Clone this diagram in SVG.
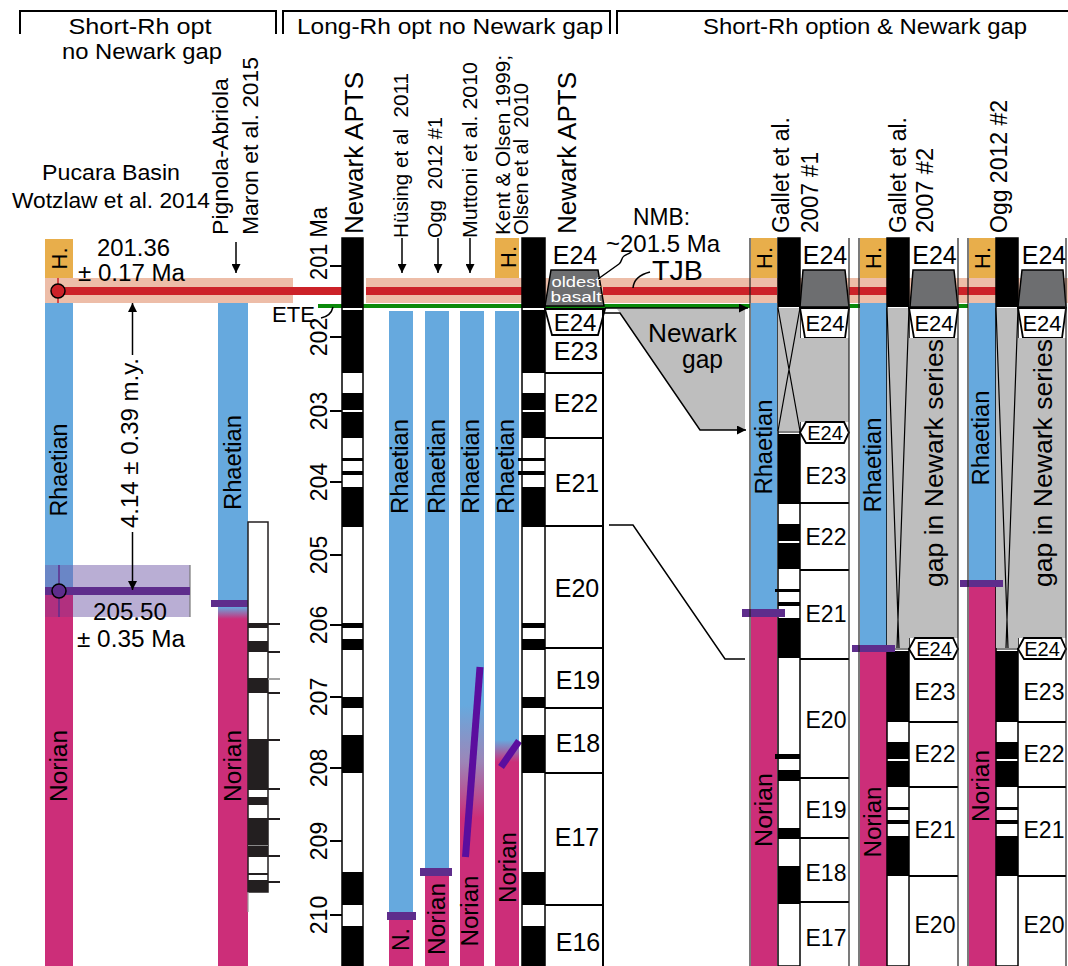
<svg xmlns="http://www.w3.org/2000/svg" width="1068" height="966" viewBox="0 0 1068 966">
<defs>
<style>
.t{font-family:"Liberation Sans",Arial,Helvetica,sans-serif;fill:#000}
.c{text-anchor:middle;dominant-baseline:central}
.m{text-anchor:middle}
.blue{fill:#66A9DE}
.mag{fill:#CC2E79}
.org{fill:#E8AE4B}
.pink{fill:#EDBDA8}
.red{fill:#CC2229}
.grn{fill:#0A8A0A}
.pur{fill:#5E2D8C}
.gry{fill:#BEBEBE}
.dg{fill:#6D6E70;stroke:#000;stroke-width:1.5}
.k{fill:#000}
.kk{fill:#231F20}
.ln{fill:none;stroke:#000;stroke-width:1.5}
.bx{fill:none;stroke:#000;stroke-width:2}
.wb{fill:#fff;stroke:#000;stroke-width:1.8}
.col{fill:#fff;stroke:#000;stroke-width:1.5}
.thin{fill:none;stroke:#222;stroke-width:1.2}
</style>
<marker id="ah" viewBox="0 0 10 10" refX="10" refY="5" markerWidth="13" markerHeight="9" orient="auto" markerUnits="userSpaceOnUse"><path d="M0,0 L10,5 L0,10 Z" fill="#000"/></marker>
<linearGradient id="gPig" x1="0" y1="0" x2="0" y2="1"><stop offset="0" stop-color="#66A9DE"/><stop offset="1" stop-color="#CC2E79"/></linearGradient>
<linearGradient id="gMut" x1="0" y1="0" x2="0" y2="1"><stop offset="0" stop-color="#66A9DE"/><stop offset="0.5" stop-color="#9C86B8"/><stop offset="1" stop-color="#CC2E79"/></linearGradient>
<linearGradient id="gKen" x1="0" y1="0" x2="0" y2="1"><stop offset="0" stop-color="#66A9DE"/><stop offset="1" stop-color="#CC2E79"/></linearGradient>
</defs>
<rect width="1068" height="966" fill="#fff"/>

<g id="header">
<path class="bx" d="M20,34 V11 H276 V34 M283,34 V11 H610 V34 M617,34 V11 H1068"/>
<text class="t m" x="140" y="34" font-size="22" textLength="143" lengthAdjust="spacingAndGlyphs">Short-Rh opt</text>
<text class="t m" x="142" y="59" font-size="22" textLength="160" lengthAdjust="spacingAndGlyphs">no Newark gap</text>
<text class="t m" x="450" y="34" font-size="22" textLength="306" lengthAdjust="spacingAndGlyphs">Long-Rh opt no Newark gap</text>
<text class="t m" x="865" y="34" font-size="22" textLength="324" lengthAdjust="spacingAndGlyphs">Short-Rh option &amp; Newark gap</text>
</g>

<g id="bands">
<rect class="pink" x="45" y="278" width="248" height="25"/>
<rect class="pink" x="366" y="278" width="702" height="25"/>
<rect class="grn" x="318" y="304" width="432" height="4"/>
<rect class="grn" x="849" y="304" width="11" height="4"/>
<rect class="grn" x="958" y="304" width="10" height="4"/>
</g>

<g id="pucara">
<rect class="blue" x="45" y="303" width="28" height="262"/>
<rect fill="#6A86C6" x="45" y="565" width="28" height="26"/>
<rect fill="#B1307F" x="45" y="591" width="28" height="26"/>
<rect class="mag" x="45" y="617" width="28" height="349"/>
<rect fill="#B9AED4" x="73" y="565" width="117" height="52"/>
<line x1="190" y1="565" x2="190" y2="617" stroke="#777" stroke-width="1.2"/>
<rect class="org" x="45" y="239" width="28" height="39"/>
<text class="t c" font-size="22" transform="translate(59,258.5) rotate(-90)">H.</text>
<text class="t c" font-size="23" transform="translate(59,470) rotate(-90)" textLength="93" lengthAdjust="spacingAndGlyphs">Rhaetian</text>
<text class="t c" font-size="23" transform="translate(59,766) rotate(-90)" textLength="72" lengthAdjust="spacingAndGlyphs">Norian</text>
<rect class="pur" x="45" y="587" width="145" height="8"/>
<line x1="59" y1="565" x2="59" y2="617" stroke="#5E2D8C" stroke-width="1.5"/>
<circle cx="59" cy="591" r="7" fill="#5E2D8C" stroke="#000" stroke-width="1.5"/>
<text class="t m" x="111" y="180" font-size="22.5" textLength="138" lengthAdjust="spacingAndGlyphs">Pucara Basin</text>
<text class="t m" x="111" y="208" font-size="22.5" textLength="198" lengthAdjust="spacingAndGlyphs">Wotzlaw et al. 2014</text>
<text class="t m" x="133.5" y="256" font-size="23" textLength="73" lengthAdjust="spacingAndGlyphs">201.36</text>
<text class="t m" x="131.5" y="281" font-size="23" textLength="107" lengthAdjust="spacingAndGlyphs">± 0.17 Ma</text>
<text class="t m" x="130" y="620" font-size="23" textLength="74" lengthAdjust="spacingAndGlyphs">205.50</text>
<text class="t m" x="131" y="647" font-size="23" textLength="108" lengthAdjust="spacingAndGlyphs">± 0.35 Ma</text>
<text class="t c" font-size="23.5" transform="translate(130,443) rotate(-90)" textLength="170" lengthAdjust="spacingAndGlyphs">4.14 ± 0.39 m.y.</text>
</g>

<g id="pignola">
<rect class="blue" x="218" y="303" width="30" height="297"/>
<rect fill="url(#gPig)" x="218" y="607" width="30" height="12"/>
<rect class="mag" x="218" y="619" width="30" height="347"/>
<rect class="pur" x="211" y="600" width="43" height="7"/>
<rect fill="#fff" stroke="#231F20" stroke-width="1.5" x="248" y="522" width="20" height="370"/>
<rect class="kk" x="248" y="623" width="20" height="5"/>
<rect class="kk" x="248" y="641" width="20" height="11"/>
<rect class="kk" x="248" y="678" width="20" height="15"/>
<rect class="kk" x="248" y="739" width="20" height="51"/>
<rect class="kk" x="248" y="797" width="20" height="8"/>
<rect class="kk" x="248" y="818" width="20" height="39"/>
<rect class="kk" x="248" y="873" width="20" height="2"/>
<rect class="kk" x="248" y="880" width="20" height="12"/>
<line x1="248" y1="845.5" x2="268" y2="845.5" stroke="#888" stroke-width="1"/>
<line x1="248" y1="892" x2="248" y2="912" stroke="#999" stroke-width="1.2"/>
<path d="M268,624 H280 M268,652 H280 M268,693 H280 M268,740 H280 M268,789 H280 M268,819 H280 M268,856 H280 M268,882 H280" stroke="#231F20" stroke-width="1.8"/>
<line x1="268" y1="679" x2="280" y2="679" stroke="#999" stroke-width="1.8"/>
<text class="t c" font-size="22" transform="translate(220,156.5) rotate(-90)" textLength="157" lengthAdjust="spacingAndGlyphs">Pignola-Abriola</text>
<text class="t c" font-size="22" transform="translate(250,146) rotate(-90)" textLength="178" lengthAdjust="spacingAndGlyphs">Maron et al. 2015</text>
<text class="t c" font-size="23" transform="translate(232.5,462.5) rotate(-90)" textLength="95" lengthAdjust="spacingAndGlyphs">Rhaetian</text>
<text class="t c" font-size="23" transform="translate(233,766) rotate(-90)" textLength="72" lengthAdjust="spacingAndGlyphs">Norian</text>
</g>

<g id="middle-columns">
<rect class="blue" x="389" y="311" width="24" height="601"/>
<rect class="mag" x="389" y="920" width="24" height="46"/>
<rect class="pur" x="387" y="912" width="29" height="8"/>
<rect class="blue" x="425" y="311" width="24" height="557"/>
<rect class="mag" x="425" y="876" width="24" height="90"/>
<rect class="pur" x="420" y="868" width="32" height="8"/>
<rect class="blue" x="460" y="311" width="24" height="394"/>
<rect fill="url(#gMut)" x="460" y="705" width="24" height="113"/>
<rect class="mag" x="460" y="818" width="24" height="148"/>
<line x1="480" y1="667" x2="465.5" y2="857" stroke="#5B0E9E" stroke-width="7"/>
<rect class="org" x="495" y="238" width="24" height="40"/>
<rect class="blue" x="495" y="311" width="24" height="429"/>
<rect fill="url(#gKen)" x="495" y="740" width="24" height="22"/>
<rect class="mag" x="495" y="762" width="24" height="204"/>
<line x1="519" y1="741" x2="501" y2="767" stroke="#5B0E9E" stroke-width="7"/>
<text class="t c" font-size="22" transform="translate(508,257) rotate(-90)">H.</text>
<text class="t c" font-size="23" transform="translate(400,466.5) rotate(-90)" textLength="95" lengthAdjust="spacingAndGlyphs">Rhaetian</text>
<text class="t c" font-size="23" transform="translate(437,466.5) rotate(-90)" textLength="95" lengthAdjust="spacingAndGlyphs">Rhaetian</text>
<text class="t c" font-size="23" transform="translate(470.5,466.5) rotate(-90)" textLength="95" lengthAdjust="spacingAndGlyphs">Rhaetian</text>
<text class="t c" font-size="23" transform="translate(505.5,466.5) rotate(-90)" textLength="95" lengthAdjust="spacingAndGlyphs">Rhaetian</text>
<text class="t c" font-size="23" transform="translate(401,939.5) rotate(-90)">N.</text>
<text class="t c" font-size="23" transform="translate(437,919) rotate(-90)" textLength="72" lengthAdjust="spacingAndGlyphs">Norian</text>
<text class="t c" font-size="23" transform="translate(469.5,911) rotate(-90)" textLength="71" lengthAdjust="spacingAndGlyphs">Norian</text>
<text class="t c" font-size="23" transform="translate(507.5,867.5) rotate(-90)" textLength="71" lengthAdjust="spacingAndGlyphs">Norian</text>
<text class="t c" font-size="20" transform="translate(400.5,155.5) rotate(-90)" textLength="165" lengthAdjust="spacingAndGlyphs" xml:space="preserve">Hüsing et al  2011</text>
<text class="t c" font-size="20" transform="translate(435,177.5) rotate(-90)" textLength="121" lengthAdjust="spacingAndGlyphs" xml:space="preserve">Ogg  2012 #1</text>
<text class="t c" font-size="20" transform="translate(469.5,150) rotate(-90)" textLength="176" lengthAdjust="spacingAndGlyphs">Muttoni et al. 2010</text>
<text class="t c" font-size="20" transform="translate(503,145) rotate(-90)" textLength="180" lengthAdjust="spacingAndGlyphs">Kent &amp; Olsen 1999;</text>
<text class="t c" font-size="20" transform="translate(521,159) rotate(-90)" textLength="152" lengthAdjust="spacingAndGlyphs" xml:space="preserve">Olsen et al  2010</text>
</g>

<g id="red-line">
<rect class="red" x="58" y="287" width="284" height="8"/>
<rect class="red" x="366" y="287" width="157" height="8"/>
<rect class="red" x="603" y="287" width="174" height="8"/>
<rect class="red" x="849" y="287" width="38" height="8"/>
<rect class="red" x="958" y="287" width="38" height="8"/>
<line x1="58" y1="278" x2="58" y2="303" stroke="#CC2229" stroke-width="1.5"/>
<circle cx="58" cy="291" r="7" fill="#CC2229" stroke="#000" stroke-width="1.5"/>
</g>

<g id="newark-apts-left">
<rect class="col" x="342" y="238" width="21" height="728"/>
<rect class="k" x="342" y="238" width="21" height="70"/>
<rect class="k" x="342" y="310" width="21" height="63"/>
<rect class="k" x="342" y="393" width="21" height="17"/>
<rect class="k" x="342" y="412" width="21" height="26"/>
<rect class="k" x="342" y="458" width="21" height="3"/>
<rect class="k" x="342" y="471" width="21" height="4"/>
<rect class="k" x="342" y="487" width="21" height="40"/>
<rect class="k" x="342" y="623" width="21" height="5"/>
<rect class="k" x="342" y="639" width="21" height="11"/>
<rect class="k" x="342" y="697" width="21" height="11"/>
<rect class="k" x="342" y="735" width="21" height="38"/>
<rect class="k" x="342" y="872" width="21" height="33"/>
<rect class="k" x="342" y="926" width="21" height="40"/>
<path d="M330,266 H342 M330,337 H342 M330,411 H342 M330,482 H342 M330,555 H342 M330,625 H342 M330,697 H342 M330,768 H342 M330,841 H342 M330,915 H342" stroke="#000" stroke-width="2"/>
<text class="t c" font-size="23" transform="translate(318.5,243.5) rotate(-90)" textLength="73" lengthAdjust="spacingAndGlyphs">201 Ma</text>
<text class="t c" font-size="23" transform="translate(318.5,337) rotate(-90)">202</text>
<text class="t c" font-size="23" transform="translate(318.5,411) rotate(-90)">203</text>
<text class="t c" font-size="23" transform="translate(318.5,482) rotate(-90)">204</text>
<text class="t c" font-size="23" transform="translate(318.5,555) rotate(-90)">205</text>
<text class="t c" font-size="23" transform="translate(318.5,625) rotate(-90)">206</text>
<text class="t c" font-size="23" transform="translate(318.5,697) rotate(-90)">207</text>
<text class="t c" font-size="23" transform="translate(318.5,768) rotate(-90)">208</text>
<text class="t c" font-size="23" transform="translate(318.5,841) rotate(-90)">209</text>
<text class="t c" font-size="23" transform="translate(318.5,915) rotate(-90)">210</text>
<text class="t c" font-size="26" transform="translate(353.5,153) rotate(-90)" textLength="162" lengthAdjust="spacingAndGlyphs">Newark APTS</text>
</g>

<g id="newark-apts-right">
<rect class="col" x="522" y="238" width="23" height="728"/>
<rect class="k" x="522" y="238" width="23" height="70"/>
<rect class="k" x="522" y="310" width="23" height="63"/>
<rect class="k" x="522" y="393" width="23" height="17"/>
<rect class="k" x="522" y="412" width="23" height="26"/>
<rect class="k" x="518" y="458" width="27" height="3"/>
<rect class="k" x="518" y="471" width="27" height="4"/>
<rect class="k" x="522" y="487" width="23" height="40"/>
<rect class="k" x="522" y="623" width="23" height="5"/>
<rect class="k" x="522" y="639" width="23" height="11"/>
<rect class="k" x="522" y="697" width="23" height="11"/>
<rect class="k" x="522" y="735" width="23" height="38"/>
<rect class="k" x="522" y="872" width="23" height="33"/>
<rect class="k" x="522" y="926" width="23" height="40"/>
<text class="t c" font-size="26" transform="translate(567,153) rotate(-90)" textLength="162" lengthAdjust="spacingAndGlyphs">Newark APTS</text>
</g>

<g id="newark-members">
<polygon class="dg" points="551,270 598,270 604,306 545,306"/>
<text class="t m" x="576" y="287" font-size="15.5" style="fill:#fff" textLength="49" lengthAdjust="spacingAndGlyphs">oldest</text>
<text class="t m" x="576" y="302" font-size="15.5" style="fill:#fff" textLength="51" lengthAdjust="spacingAndGlyphs">basalt</text>
<polygon class="wb" points="545,309 605,309 598,335 552,335"/>
<line x1="603" y1="309" x2="603" y2="966" stroke="#000" stroke-width="2"/>
<path d="M545,373 H603 M545,438 H603 M545,526 H603 M545,648 H603 M545,708 H603 M545,773 H603 M545,905 H603" stroke="#000" stroke-width="2"/>
<text class="t c" font-size="25" x="575" y="255">E24</text>
<text class="t c" font-size="24" x="575" y="322">E24</text>
<text class="t c" font-size="25" x="576" y="351">E23</text>
<text class="t c" font-size="25" x="576" y="403">E22</text>
<text class="t c" font-size="25" x="577" y="483">E21</text>
<text class="t c" font-size="25" x="577" y="588">E20</text>
<text class="t c" font-size="25" x="578" y="680">E19</text>
<text class="t c" font-size="25" x="578" y="743">E18</text>
<text class="t c" font-size="25" x="577" y="837">E17</text>
<text class="t c" font-size="25" x="578" y="942">E16</text>
</g>

<g id="newark-gap">
<polygon class="gry" points="617,309 745,309 745,430 700,430 620,313"/>
<polyline class="ln" points="604,313 620,313 700,430 746,430" marker-end="url(#ah)"/>
<line class="ln" x1="605" y1="308" x2="748" y2="308" marker-end="url(#ah)"/>
<text class="t m" x="692.5" y="342" font-size="25" textLength="89" lengthAdjust="spacingAndGlyphs">Newark</text>
<text class="t m" x="702.5" y="368" font-size="25" textLength="41" lengthAdjust="spacingAndGlyphs">gap</text>
</g>

<g id="connectors">
<polyline class="ln" points="609,525 633,525 725,659 745,659"/>
<line class="ln" x1="132.5" y1="355" x2="132.5" y2="303" marker-end="url(#ah)"/>
<line class="ln" x1="132.5" y1="532" x2="132.5" y2="590" marker-end="url(#ah)"/>
<line class="ln" x1="236" y1="242" x2="236" y2="273" marker-end="url(#ah)"/>
<line class="ln" x1="402" y1="238" x2="402" y2="273" marker-end="url(#ah)"/>
<line class="ln" x1="438" y1="238" x2="438" y2="273" marker-end="url(#ah)"/>
<line class="ln" x1="470" y1="238" x2="470" y2="273" marker-end="url(#ah)"/>
<path class="ln" d="M321,318 Q331,316 333,307"/>
<path class="ln" d="M598,279 L619,264 C622,262 621,258 624,256 C627,254 629,254 631,252"/>
<path class="ln" d="M633,288 Q634,276 650,272"/>
</g>

<g id="labels-boundaries">
<text class="t m" x="293.5" y="322" font-size="22" textLength="43" lengthAdjust="spacingAndGlyphs">ETE</text>
<text class="t m" x="661.5" y="225" font-size="23" textLength="57" lengthAdjust="spacingAndGlyphs">NMB:</text>
<text class="t m" x="663" y="252" font-size="24" textLength="114" lengthAdjust="spacingAndGlyphs">~201.5 Ma</text>
<text class="t m" x="677.5" y="280" font-size="28" textLength="51" lengthAdjust="spacingAndGlyphs">TJB</text>
</g>

<g id="gallet1">
<rect class="org" x="751" y="238" width="26" height="40"/>
<rect class="blue" x="751" y="303" width="26" height="306"/>
<rect class="mag" x="751" y="617" width="26" height="349"/>
<rect class="col" x="778" y="238" width="22" height="728"/>
<rect class="k" x="778" y="238" width="22" height="69"/>
<rect class="gry" x="778" y="308" width="22" height="123"/>
<path d="M778,308 L800,431 M800,308 L778,431 M778,432 H800" stroke="#000" stroke-width="1.2"/>
<rect class="k" x="778" y="434" width="22" height="70"/>
<rect class="k" x="778" y="524" width="22" height="17"/>
<rect class="k" x="778" y="543" width="22" height="26"/>
<rect class="k" x="775" y="589" width="25" height="3"/>
<rect class="k" x="778" y="602" width="22" height="4"/>
<rect class="k" x="778" y="618" width="22" height="40"/>
<rect class="k" x="775" y="754" width="25" height="5"/>
<rect class="k" x="778" y="770" width="22" height="11"/>
<rect class="k" x="778" y="828" width="22" height="11"/>
<rect class="k" x="778" y="866" width="22" height="38"/>
<rect class="pur" x="742" y="609" width="43" height="8"/>
<polygon class="dg" points="803,270 845,270 849,307 800,307"/>
<polygon class="wb" points="800,308 849,308 845,338 805,338"/>
<rect class="gry" x="800" y="338" width="49" height="84"/>
<polygon class="wb" points="800,432.5 806,422 844,422 849,432.5 844,443 806,443"/>
<path d="M800,503 H849 M800,570 H849 M800,659 H849 M800,778 H849 M800,838 H849 M800,902 H849" stroke="#000" stroke-width="2"/>
<line class="thin" x1="849" y1="238" x2="849" y2="966"/>
<line class="thin" x1="750" y1="238" x2="750" y2="966"/>
<text class="t c" font-size="22" transform="translate(764,258) rotate(-90)">H.</text>
<text class="t c" font-size="23" transform="translate(764,447) rotate(-90)" textLength="95" lengthAdjust="spacingAndGlyphs">Rhaetian</text>
<text class="t c" font-size="23" transform="translate(764,810) rotate(-90)" textLength="74" lengthAdjust="spacingAndGlyphs">Norian</text>
<text class="t c" font-size="23" transform="translate(781,175) rotate(-90)" textLength="116" lengthAdjust="spacingAndGlyphs">Gallet et al.</text>
<text class="t c" font-size="23" transform="translate(810,192.5) rotate(-90)" textLength="81" lengthAdjust="spacingAndGlyphs">2007 #1</text>
<text class="t c" font-size="25" x="825" y="255">E24</text>
<text class="t c" font-size="22" x="825" y="323">E24</text>
<text class="t c" font-size="20" x="825" y="432.5">E24</text>
<text class="t c" font-size="23" x="826" y="476">E23</text>
<text class="t c" font-size="23" x="826" y="537">E22</text>
<text class="t c" font-size="23" x="826" y="614">E21</text>
<text class="t c" font-size="23" x="826" y="720">E20</text>
<text class="t c" font-size="23" x="826" y="810">E19</text>
<text class="t c" font-size="23" x="826" y="873">E18</text>
<text class="t c" font-size="23" x="826" y="938">E17</text>
</g>

<g id="gallet2">
<rect class="org" x="860" y="238" width="27" height="40"/>
<rect class="blue" x="860" y="303" width="27" height="342"/>
<rect class="mag" x="860" y="652" width="27" height="314"/>
<rect class="col" x="887" y="238" width="22" height="728"/>
<rect class="k" x="887" y="238" width="22" height="69"/>
<rect class="gry" x="887" y="308" width="22" height="340"/>
<path d="M887,308 L899,648 M909,308 L897,648 M887,649 H909" stroke="#000" stroke-width="1.2"/>
<rect class="k" x="887" y="651" width="22" height="71"/>
<rect class="k" x="887" y="742" width="22" height="17"/>
<rect class="k" x="887" y="761" width="22" height="26"/>
<rect class="k" x="887" y="807" width="22" height="3"/>
<rect class="k" x="887" y="820" width="22" height="4"/>
<rect class="k" x="887" y="836" width="22" height="40"/>
<rect class="pur" x="852" y="645" width="43" height="7"/>
<polygon class="dg" points="913,270 954,270 958,307 910,307"/>
<polygon class="wb" points="909,308 958,308 954,338 914,338"/>
<rect class="gry" x="909" y="338" width="49" height="300"/>
<polygon class="wb" points="909,649 915,638 953,638 958,649 953,659 915,659"/>
<path d="M909,722 H958 M909,787 H958 M909,876 H958" stroke="#000" stroke-width="2"/>
<line class="thin" x1="958" y1="238" x2="958" y2="966"/>
<line class="thin" x1="859" y1="238" x2="859" y2="966"/>
<text class="t c" font-size="22" transform="translate(873,258) rotate(-90)">H.</text>
<text class="t c" font-size="23" transform="translate(873,465) rotate(-90)" textLength="95" lengthAdjust="spacingAndGlyphs">Rhaetian</text>
<text class="t c" font-size="23" transform="translate(873,822) rotate(-90)" textLength="71" lengthAdjust="spacingAndGlyphs">Norian</text>
<text class="t c" font-size="25" transform="translate(934,463) rotate(-90)" textLength="248" lengthAdjust="spacingAndGlyphs">gap in Newark series</text>
<text class="t c" font-size="23" transform="translate(897.5,175) rotate(-90)" textLength="116" lengthAdjust="spacingAndGlyphs">Gallet et al.</text>
<text class="t c" font-size="23" transform="translate(925,190.5) rotate(-90)" textLength="85" lengthAdjust="spacingAndGlyphs">2007 #2</text>
<text class="t c" font-size="25" x="934.5" y="255">E24</text>
<text class="t c" font-size="22" x="934" y="323">E24</text>
<text class="t c" font-size="20" x="934" y="649">E24</text>
<text class="t c" font-size="23" x="935" y="692">E23</text>
<text class="t c" font-size="23" x="935" y="754">E22</text>
<text class="t c" font-size="23" x="935" y="830">E21</text>
<text class="t c" font-size="23" x="935" y="925">E20</text>
</g>

<g id="ogg2">
<rect class="org" x="969" y="238" width="27" height="40"/>
<rect class="blue" x="969" y="303" width="27" height="277"/>
<rect class="mag" x="969" y="587" width="27" height="379"/>
<rect class="col" x="996" y="238" width="22" height="728"/>
<rect class="k" x="996" y="238" width="22" height="69"/>
<rect class="gry" x="996" y="308" width="22" height="340"/>
<path d="M996,308 L1008,648 M1018,308 L1006,648 M996,649 H1018" stroke="#000" stroke-width="1.2"/>
<rect class="k" x="996" y="651" width="22" height="71"/>
<rect class="k" x="996" y="742" width="22" height="17"/>
<rect class="k" x="996" y="761" width="22" height="26"/>
<rect class="k" x="996" y="807" width="22" height="3"/>
<rect class="k" x="996" y="820" width="22" height="4"/>
<rect class="k" x="996" y="836" width="22" height="40"/>
<rect class="pur" x="960" y="580" width="43" height="7"/>
<polygon class="dg" points="1022,270 1063,270 1066,307 1018,307"/>
<polygon class="wb" points="1018,308 1066,308 1062,338 1023,338"/>
<rect class="gry" x="1018" y="338" width="48" height="300"/>
<polygon class="wb" points="1018,649 1024,638 1061,638 1066,649 1061,659 1024,659"/>
<path d="M1018,722 H1066 M1018,787 H1066 M1018,876 H1066" stroke="#000" stroke-width="2"/>
<line class="thin" x1="1066" y1="238" x2="1066" y2="966"/>
<line class="thin" x1="968" y1="238" x2="968" y2="966"/>
<text class="t c" font-size="22" transform="translate(982,258) rotate(-90)">H.</text>
<text class="t c" font-size="23" transform="translate(981,438) rotate(-90)" textLength="95" lengthAdjust="spacingAndGlyphs">Rhaetian</text>
<text class="t c" font-size="23" transform="translate(981,786) rotate(-90)" textLength="72" lengthAdjust="spacingAndGlyphs">Norian</text>
<text class="t c" font-size="25" transform="translate(1043,463) rotate(-90)" textLength="248" lengthAdjust="spacingAndGlyphs">gap in Newark series</text>
<text class="t c" font-size="23" transform="translate(999,166.5) rotate(-90)" textLength="133" lengthAdjust="spacingAndGlyphs">Ogg 2012 #2</text>
<text class="t c" font-size="25" x="1044" y="255">E24</text>
<text class="t c" font-size="22" x="1042" y="323">E24</text>
<text class="t c" font-size="20" x="1042" y="649">E24</text>
<text class="t c" font-size="23" x="1044" y="692">E23</text>
<text class="t c" font-size="23" x="1044" y="754">E22</text>
<text class="t c" font-size="23" x="1044" y="830">E21</text>
<text class="t c" font-size="23" x="1044" y="925">E20</text>
</g>
</svg>
